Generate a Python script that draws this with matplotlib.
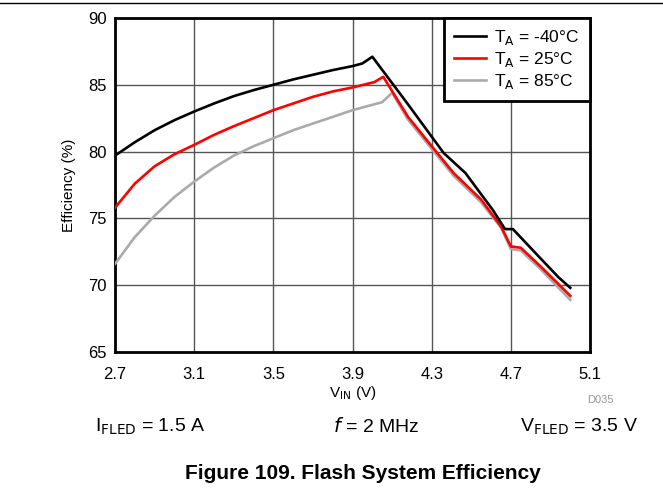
import matplotlib
matplotlib.use('Agg')
import matplotlib.pyplot as plt

plt.rcParams['font.family'] = ['Liberation Sans', 'DejaVu Sans']

# Efficiency vs input voltage
v_m40 = [2.7, 2.8, 2.9, 3.0, 3.1, 3.2, 3.3, 3.4, 3.5, 3.6, 3.7, 3.8, 3.9, 3.95, 4.0,
         4.177, 4.36, 4.47, 4.57, 4.61, 4.67, 4.71, 4.85, 4.94, 5.0]
eff_m40 = [79.7, 80.7, 81.6, 82.35, 83.0, 83.6, 84.15, 84.6, 85.0, 85.4, 85.75, 86.1, 86.4, 86.6, 87.1,
           83.6, 79.9, 78.4, 76.4, 75.6, 74.2, 74.2, 72.0, 70.6, 69.8]

v_25 = [2.7, 2.8, 2.9, 3.0, 3.1, 3.2, 3.3, 3.4, 3.5, 3.6, 3.7, 3.8, 3.9, 4.01, 4.055,
        4.18, 4.30, 4.41, 4.55, 4.65, 4.70, 4.75, 4.85, 5.0]
eff_25 = [75.8, 77.6, 78.9, 79.8, 80.5, 81.25, 81.9, 82.5, 83.1, 83.6, 84.1, 84.5, 84.8, 85.2, 85.6,
          82.6, 80.4, 78.4, 76.4, 74.4, 72.9, 72.8, 71.4, 69.2]

v_85 = [2.7, 2.8, 2.9, 3.0, 3.1, 3.2, 3.3, 3.4, 3.5, 3.6, 3.7, 3.8, 3.9, 4.05, 4.10,
        4.18, 4.30, 4.41, 4.55, 4.65, 4.70, 4.75, 4.85, 5.0]
eff_85 = [71.6, 73.6, 75.2, 76.6, 77.75, 78.8, 79.7, 80.4, 81.0, 81.6, 82.1, 82.6, 83.1, 83.7, 84.4,
          82.4, 80.2, 78.2, 76.2, 74.3, 72.7, 72.6, 71.2, 68.9]

xticks = [2.7, 3.1, 3.5, 3.9, 4.3, 4.7, 5.1]
yticks = [65, 70, 75, 80, 85, 90]

fig = plt.figure(figsize=(6.63, 4.97), dpi=100)
ax = fig.add_axes([0.1735, 0.2918, 0.7165, 0.672])

ax.plot(v_m40, eff_m40, color='black', lw=1.9, label='T$_\\mathrm{A}$ = -40°C', zorder=5)
ax.plot(v_25, eff_25, color='#ff0000', lw=1.9, label='T$_\\mathrm{A}$ = 25°C', zorder=4)
ax.plot(v_85, eff_85, color='#aaaaaa', lw=1.9, label='T$_\\mathrm{A}$ = 85°C', zorder=3)

ax.set_xlim(2.7, 5.1)
ax.set_ylim(65, 90)
ax.set_xticks(xticks)
ax.set_yticks(yticks)
ax.set_xticklabels([f'{t:.1f}' for t in xticks])
ax.tick_params(length=0, labelsize=12)
ax.tick_params(axis='x', pad=11)
ax.tick_params(axis='y', pad=6)
ax.grid(True, color='#555555', lw=1)
for s in ax.spines.values():
    s.set_linewidth(2)

ax.set_xlabel('V$_\\mathrm{IN}$ (V)', fontsize=11, labelpad=1)
ax.set_ylabel('Efficiency (%)', fontsize=11, labelpad=9)

leg = ax.legend(loc='upper right', fontsize=12.5, frameon=True, fancybox=False,
                borderpad=0.6, labelspacing=0.15, handlelength=1.8, handletextpad=0.5,
                borderaxespad=0)
leg.get_frame().set_edgecolor('black')
leg.get_frame().set_linewidth(2)
leg.get_frame().set_alpha(1)

fig.text(0.905, 0.19, 'D035', color='#999999', fontsize=8, ha='center')
fig.text(0.1433, 0.1308, 'I$_\\mathrm{FLED}$ = 1.5 A', fontsize=14, ha='left', va='baseline')
fig.text(0.502, 0.1308, '$f$ = 2 MHz', fontsize=14, ha='left', va='baseline')
fig.text(0.784, 0.1308, 'V$_\\mathrm{FLED}$ = 3.5 V', fontsize=14, ha='left', va='baseline')
fig.text(0.548, 0.036, 'Figure 109. Flash System Efficiency', fontsize=15, fontweight='bold',
         ha='center', va='baseline')
fig.add_artist(plt.Line2D([0, 1], [0.993, 0.993], color='black', lw=1, transform=fig.transFigure))

fig.savefig('out.png', dpi=100)
